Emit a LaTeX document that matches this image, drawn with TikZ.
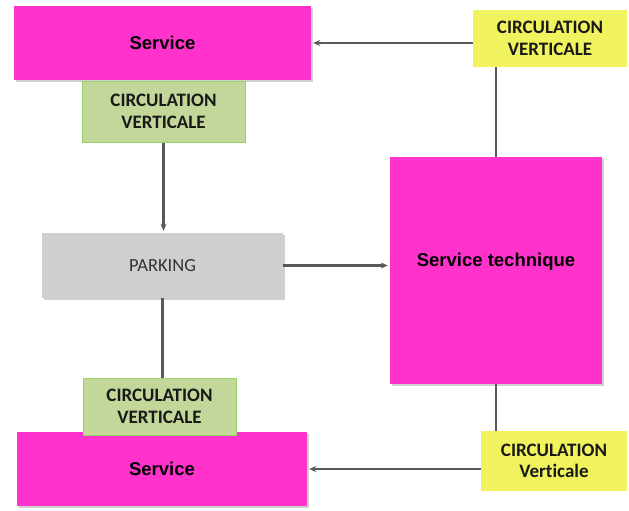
\documentclass[tikz,border=0pt]{standalone}
\usepackage{fontspec}
\setmainfont{Liberation Sans}
\newfontfamily\calib[Ligatures={NoCommon}]{Carlito}
\usetikzlibrary{arrows.meta,shadows}
\definecolor{mag}{HTML}{FF33CC}
\definecolor{grn}{HTML}{C4D79B}
\definecolor{grnb}{HTML}{9BD468}
\definecolor{yel}{HTML}{F1F35E}
\definecolor{pkg}{HTML}{D0CECE}
\definecolor{lnc}{HTML}{595959}
\tikzset{
  shd/.style={drop shadow={shadow xshift=1.5pt,shadow yshift=-2pt,opacity=.3,fill=black!60}},
  svc/.style={rectangle,fill=mag,shd,font=\fontsize{18.5}{22}\selectfont\bfseries,text=black},
  cvg/.style={rectangle,fill=grn,draw=grnb,line width=1pt,font=\calib\fontsize{19}{21.5}\selectfont\bfseries,text=black!90,align=center},
  cvy/.style={rectangle,fill=yel,font=\calib\fontsize{19}{21.5}\selectfont\bfseries,text=black!90,align=center},
  pkbox/.style={rectangle,fill=pkg,shd,font=\calib\fontsize{18.5}{22}\selectfont,text=black!80},
  ln/.style={draw=lnc,line width=2.2pt},
  arr/.style={ln,-{Stealth[length=7pt,width=6pt]},shorten >=2pt}
}
\begin{document}
\begin{tikzpicture}[x=1pt,y=-1pt]
\useasboundingbox (0,0) rectangle (629,511);
\node[svc,minimum width=297pt,minimum height=74pt] (s1) at (162.5,43) {Service};
\node[cvg,minimum width=163pt,minimum height=61pt] (g1) at (163.5,111.5) {CIRCULATION\\VERTICALE};
\node[cvy,minimum width=154pt,minimum height=57pt] (y1) at (550,38.5) {CIRCULATION\\VERTICALE};
\node[svc,minimum width=212pt,minimum height=227pt] (st) at (496,270.5) {\raisebox{22pt}{Service technique}};
\node[pkbox,minimum width=241pt,minimum height=65pt] (pk) at (162.5,265.5) {PARKING};
\node[svc,minimum width=290pt,minimum height=74pt] (s2) at (162,469) {Service};
\node[cvg,minimum width=153pt,minimum height=57pt] (g2) at (159.5,406.5) {CIRCULATION\\VERTICALE};
\node[cvy,minimum width=146pt,minimum height=60pt] (y2) at (554,461) {CIRCULATION\\Verticale};

\draw[arr] (y1.west |- s1.east) -- (s1.east);
\draw[ln] (y1.south -| st.north) -- (st.north);
\draw[arr] (g1.south) -- (g1.south |- pk.north);
\draw[arr] (pk.east) -- (pk.east -| st.west);
\draw[ln] (pk.south) -- (pk.south |- g2.north);
\draw[ln] (st.south) -- (st.south |- y2.north);
\draw[arr] (y2.west |- s2.east) -- (s2.east);
\end{tikzpicture}
\end{document}
